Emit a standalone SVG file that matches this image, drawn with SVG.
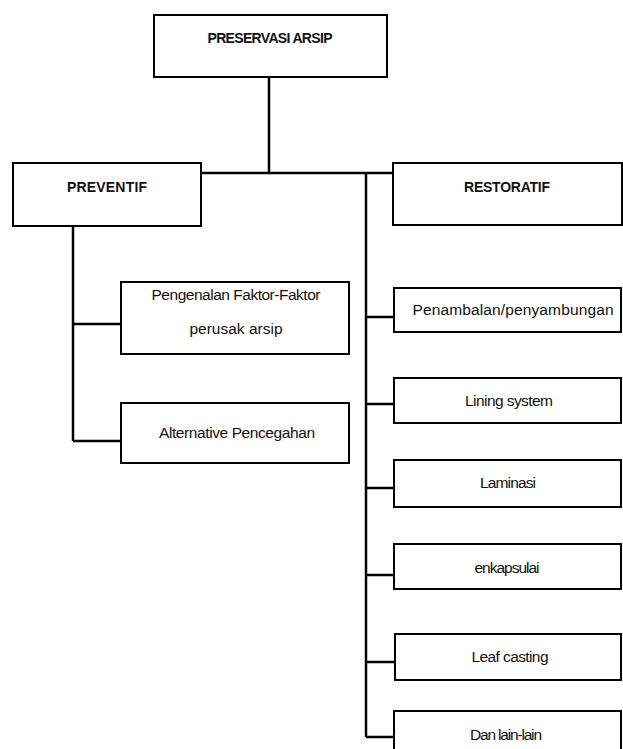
<svg xmlns="http://www.w3.org/2000/svg" width="623" height="749" viewBox="0 0 623 749">
<style>
.box{fill:#fff;stroke:#000;stroke-width:2}
.ln{fill:none;stroke:#000;stroke-width:2.5}
.h{font-family:"Liberation Sans",Arial,sans-serif;font-weight:bold;font-size:14px;fill:#111;text-anchor:middle}
.t{font-family:"Liberation Sans",Arial,sans-serif;font-size:15.5px;fill:#111;text-anchor:middle}
</style>
<rect width="623" height="749" fill="#fff"/>
<g id="connectors">
<path class="ln" d="M269,77V173M201,173H393M73,226V441M73,324H121M73,441H121M366,173V737M366,317H394M366,404H394M366,488H394M366,575H394M366,662H395M366,737H394"/>
</g>
<g id="preservasi"><rect class="box" x="154" y="15" width="233" height="62"/><text class="h" x="270" y="43" textLength="125">PRESERVASI ARSIP</text></g>
<g id="preventif"><rect class="box" x="13" y="163" width="188" height="63"/><text class="h" x="107" y="192" textLength="80">PREVENTIF</text></g>
<g id="restoratif"><rect class="box" x="393" y="163" width="229" height="62"/><text class="h" x="507" y="192" textLength="86">RESTORATIF</text></g>
<g id="pengenalan"><rect class="box" x="121" y="282" width="228" height="72"/><text class="t" x="236" y="300" textLength="169">Pengenalan Faktor-Faktor</text><text class="t" x="236" y="334">perusak arsip</text></g>
<g id="alternative"><rect class="box" x="121" y="403" width="228" height="60"/><text class="t" x="237" y="438" textLength="156">Alternative Pencegahan</text></g>
<g id="penambalan"><rect class="box" x="394" y="288" width="227" height="44"/><text class="t" x="513" y="315" textLength="201">Penambalan/penyambungan</text></g>
<g id="lining"><rect class="box" x="394" y="378" width="227" height="45"/><text class="t" x="509" y="406" textLength="88">Lining system</text></g>
<g id="laminasi"><rect class="box" x="394" y="460" width="227" height="47"/><text class="t" x="508" y="488" textLength="56">Laminasi</text></g>
<g id="enkapsulai"><rect class="box" x="394" y="544" width="227" height="45"/><text class="t" x="507" y="573" textLength="65">enkapsulai</text></g>
<g id="leaf"><rect class="box" x="395" y="634" width="226" height="46"/><text class="t" x="510" y="662" textLength="77">Leaf casting</text></g>
<g id="danlain"><rect class="box" x="394" y="711" width="227" height="50"/><text class="t" x="506" y="740" textLength="72">Dan lain-lain</text></g>
</svg>
